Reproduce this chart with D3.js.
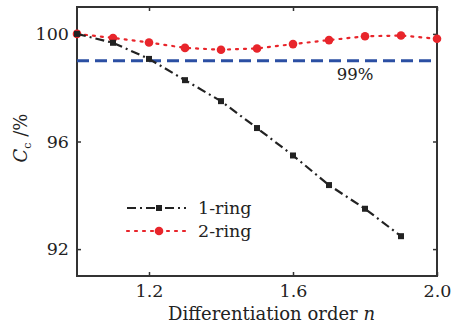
<!DOCTYPE html>
<html><head><meta charset="utf-8">
<script src="https://cdn.jsdelivr.net/npm/d3@7"></script>
<style>body{margin:0;background:#fff}svg{display:block}</style>
</head><body>
<svg id="c" width="467" height="326"></svg>
<script>
const xValues1 = [1.0,1.1,1.2,1.3,1.4,1.5,1.6,1.7,1.8,1.9];
const ring1 = [100,99.67,99.07,98.28,97.5,96.5,95.48,94.38,93.5,92.48];
const xValues2 = [1.0,1.1,1.2,1.3,1.4,1.5,1.6,1.7,1.8,1.9,2.0];
const ring2 = [100,99.85,99.68,99.48,99.41,99.46,99.62,99.77,99.91,99.94,99.82];
const threshold = 99;
const xTicks = [1.2,1.6,2.0];
const yTicks = [92,96,100];
const seriesNames = ["1-ring","2-ring"];

const svg = d3.select("#c");
const L=77,R=437,T=7,B=276;
const x = d3.scaleLinear().domain([1.0,2.0]).range([L,R]);
const y = d3.scaleLinear().domain([91,101]).range([B,T]);
const font = "'DejaVu Serif',serif";
const frame = "#333";

const gx = svg.append("g").attr("transform",`translate(0,${B})`)
  .call(d3.axisBottom(x).tickValues(xTicks).tickFormat(d3.format(".1f")).tickSizeInner(-4).tickSizeOuter(0).tickPadding(7));
const gy = svg.append("g").attr("transform",`translate(${L},0)`)
  .call(d3.axisLeft(y).tickValues(yTicks).tickSizeInner(-4).tickSizeOuter(0).tickPadding(8));
const gxt = svg.append("g").attr("transform",`translate(0,${T})`)
  .call(d3.axisTop(x).tickValues(xTicks).tickFormat("").tickSizeInner(-4).tickSizeOuter(0));
const gyr = svg.append("g").attr("transform",`translate(${R},0)`)
  .call(d3.axisRight(y).tickValues(yTicks).tickFormat("").tickSizeInner(-4).tickSizeOuter(0));
[gx,gy,gxt,gyr].forEach(g=>{
  g.select(".domain").remove();
  g.selectAll(".tick line").attr("stroke",frame).attr("stroke-width",1.5);
  g.selectAll("text").attr("font-family",font).attr("font-size",17.5).attr("fill","#222");
});
gx.selectAll("text").attr("dy","0.8em");
svg.append("rect").attr("x",L).attr("y",T).attr("width",R-L).attr("height",B-T)
  .attr("fill","none").attr("stroke",frame).attr("stroke-width",2);

svg.append("line").attr("x1",L).attr("x2",R).attr("y1",y(threshold)).attr("y2",y(threshold))
  .attr("stroke","#2b4fa3").attr("stroke-width",3).attr("stroke-dasharray","12,6");
svg.append("text").attr("x",355).attr("y",y(threshold)+19).attr("text-anchor","middle")
  .attr("font-family",font).attr("font-size",16.5).attr("fill","#222").text(threshold+"%");

const line = d3.line().x(d=>x(d[0])).y(d=>y(d[1]));
const d1 = xValues1.map((v,i)=>[v,ring1[i]]);
const d2 = xValues2.map((v,i)=>[v,ring2[i]]);
const red = "#e8252b", blk = "#222";

svg.append("path").datum(d2).attr("d",line).attr("fill","none").attr("stroke",red)
  .attr("stroke-width",2.2).attr("stroke-dasharray","2,6").attr("stroke-linecap","round");
svg.selectAll(".c2").data(d2).enter().append("circle")
  .attr("cx",d=>x(d[0])).attr("cy",d=>y(d[1])).attr("r",4.3).attr("fill",red);

svg.append("path").datum(d1).attr("d",line).attr("fill","none").attr("stroke",blk)
  .attr("stroke-width",2.2).attr("stroke-dasharray","9,4,2,4");
svg.selectAll(".s1").data(d1).enter().append("rect")
  .attr("x",d=>x(d[0])-3).attr("y",d=>y(d[1])-3).attr("width",6).attr("height",6).attr("fill",blk);

const lg = [{n:seriesNames[0],yy:208,c:blk,dash:"9,4,2,4"},{n:seriesNames[1],yy:231,c:red,dash:"2,6"}];
lg.forEach((o,i)=>{
  svg.append("line").attr("x1",127).attr("x2",186).attr("y1",o.yy).attr("y2",o.yy)
    .attr("stroke",o.c).attr("stroke-width",2.2).attr("stroke-dasharray",o.dash).attr("stroke-linecap",i?"round":"butt");
  if(i===0) svg.append("rect").attr("x",156).attr("y",o.yy-3).attr("width",6).attr("height",6).attr("fill",o.c);
  else svg.append("circle").attr("cx",159).attr("cy",o.yy).attr("r",4.3).attr("fill",o.c);
  svg.append("text").attr("x",198).attr("y",o.yy+6).attr("font-family",font).attr("font-size",17.5)
    .attr("fill","#222").text(o.n);
});

const xt = svg.append("text").attr("x",168).attr("y",320)
  .attr("font-family",font).attr("font-size",18).attr("fill","#222")
  .attr("textLength",207).attr("lengthAdjust","spacing");
xt.append("tspan").text("Differentiation order ");
xt.append("tspan").attr("font-style","italic").text("n");
const yt = svg.append("text").attr("transform","translate(27,138) rotate(-90)").attr("text-anchor","middle")
  .attr("font-family",font).attr("font-size",18).attr("fill","#222");
yt.append("tspan").attr("font-style","italic").text("C");
yt.append("tspan").attr("font-size",11).attr("dy",4).text("c");
yt.append("tspan").attr("dy",-4).text(" /%");
</script>
</body></html>
